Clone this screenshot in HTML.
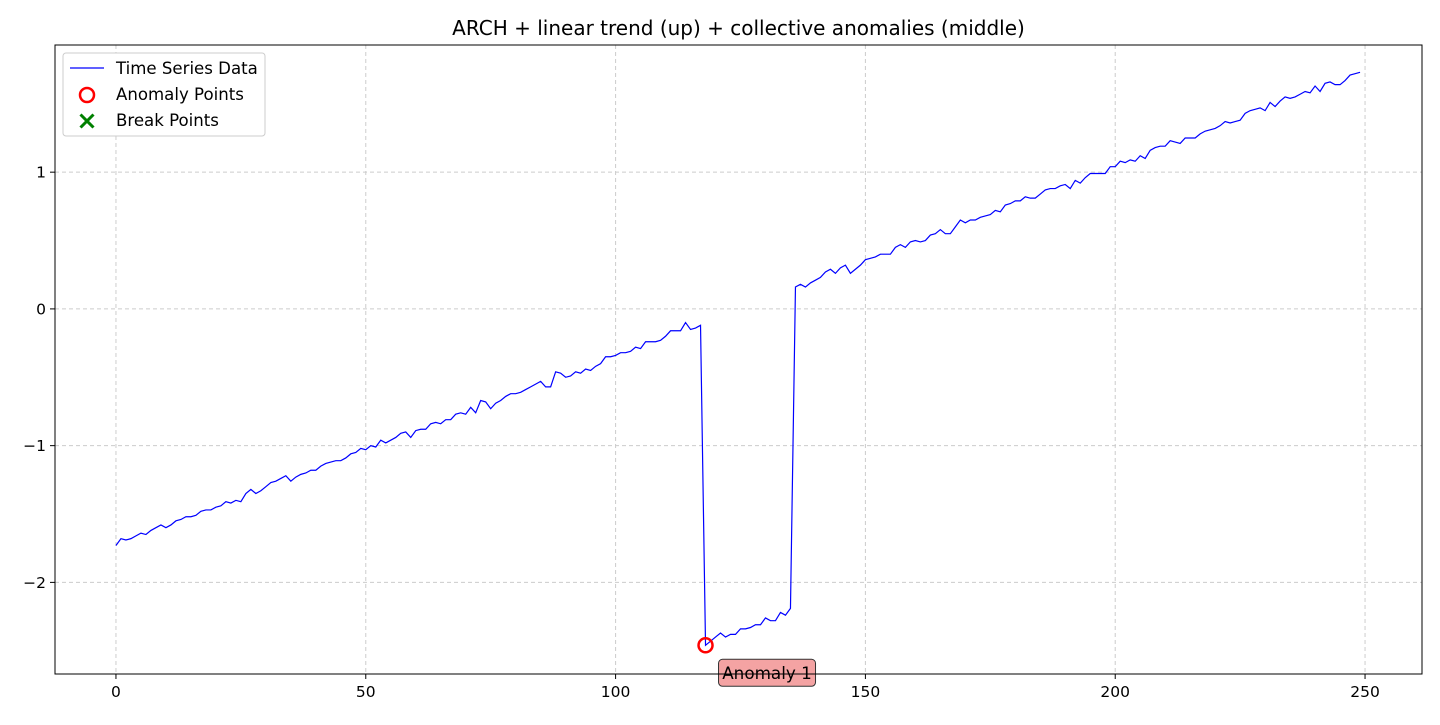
<!DOCTYPE html>
<html><head><meta charset="utf-8"><style>
body{margin:0;background:#fff;font-family:"Liberation Sans","DejaVu Sans",sans-serif}
svg text{font-family:"DejaVu Sans","Liberation Sans",sans-serif}
</style></head><body>
<svg id="chart" width="1440" height="720" xmlns="http://www.w3.org/2000/svg"></svg>
<script>
const values = [-1.73,-1.68,-1.69,-1.68,-1.66,-1.64,-1.65,-1.62,-1.60,-1.58,
-1.60,-1.58,-1.55,-1.54,-1.52,-1.52,-1.51,-1.48,-1.47,-1.47,
-1.45,-1.44,-1.41,-1.42,-1.40,-1.41,-1.35,-1.32,-1.35,-1.33,
-1.30,-1.27,-1.26,-1.24,-1.22,-1.26,-1.23,-1.21,-1.20,-1.18,
-1.18,-1.15,-1.13,-1.12,-1.11,-1.11,-1.09,-1.06,-1.05,-1.02,
-1.03,-1.00,-1.01,-0.96,-0.98,-0.96,-0.94,-0.91,-0.90,-0.94,
-0.89,-0.88,-0.88,-0.84,-0.83,-0.84,-0.81,-0.81,-0.77,-0.76,
-0.77,-0.72,-0.76,-0.67,-0.68,-0.73,-0.69,-0.67,-0.64,-0.62,
-0.62,-0.61,-0.59,-0.57,-0.55,-0.53,-0.57,-0.57,-0.46,-0.47,
-0.50,-0.49,-0.46,-0.47,-0.44,-0.45,-0.42,-0.40,-0.35,-0.35,
-0.34,-0.32,-0.32,-0.31,-0.28,-0.29,-0.24,-0.24,-0.24,-0.23,
-0.20,-0.16,-0.16,-0.16,-0.10,-0.15,-0.14,-0.12,
-2.46,-2.43,-2.40,-2.37,-2.40,-2.38,-2.38,-2.34,-2.34,-2.33,-2.31,-2.31,-2.26,-2.28,-2.28,-2.22,-2.24,-2.19,
0.16,0.18,0.16,0.19,0.21,0.23,0.27,0.29,0.26,0.30,
0.32,0.26,0.29,0.32,0.36,0.37,0.38,0.40,0.40,0.40,
0.45,0.47,0.45,0.49,0.50,0.49,0.50,0.54,0.55,0.58,
0.55,0.55,0.60,0.65,0.63,0.65,0.65,0.67,0.68,0.69,
0.72,0.71,0.76,0.77,0.79,0.79,0.82,0.81,0.81,0.84,
0.87,0.88,0.88,0.90,0.91,0.88,0.94,0.92,0.96,0.99,
0.99,0.99,0.99,1.04,1.04,1.08,1.07,1.09,1.08,1.12,
1.10,1.16,1.18,1.19,1.19,1.23,1.22,1.21,1.25,1.25,
1.25,1.28,1.30,1.31,1.32,1.34,1.37,1.36,1.37,1.38,
1.43,1.45,1.46,1.47,1.45,1.51,1.48,1.52,1.55,1.54,
1.55,1.57,1.59,1.58,1.63,1.59,1.65,1.66,1.64,1.64,
1.67,1.71,1.72,1.73];
const anomalyIdx = [118];
const anomalyLabels = ["Anomaly 1"];
const xTicks = [0,50,100,150,200,250];
const yTicks = [-2,-1,0,1];
const yTickLabels = ["\u22122","\u22121","0","1"];

const L=55,R=1422,T=45,B=674;
const xMin=-12.2,xMax=261.4,yMin=-2.67,yMax=1.93;
const X=v=>L+(v-xMin)/(xMax-xMin)*(R-L);
const Y=v=>B-(v-yMin)/(yMax-yMin)*(B-T);
const svg=document.getElementById('chart');
const NS='http://www.w3.org/2000/svg';
function mk(tag,attrs,parent){const e=document.createElementNS(NS,tag);for(const k in attrs)e.setAttribute(k,attrs[k]);(parent||svg).appendChild(e);return e;}

const grid=mk('g',{});


xTicks.forEach(t=>{mk('line',{x1:X(t),x2:X(t),y1:T,y2:B,stroke:'#ccc','stroke-dasharray':'4,3','stroke-width':1},grid);});
yTicks.forEach(t=>{mk('line',{x1:L,x2:R,y1:Y(t),y2:Y(t),stroke:'#ccc','stroke-dasharray':'4,3','stroke-width':1},grid);});

const xa=mk('g',{});


xTicks.forEach(t=>{mk('line',{x1:X(t),x2:X(t),y1:B,y2:B+5,stroke:'#000'},xa);const tx=mk('text',{x:X(t),y:B+23,'text-anchor':'middle','font-size':15.5},xa);tx.textContent=t;});
const ya=mk('g',{});


yTicks.forEach((t,i)=>{mk('line',{x1:L-5,x2:L,y1:Y(t),y2:Y(t),stroke:'#000'},ya);const tx=mk('text',{x:L-9,y:Y(t)+5.5,'text-anchor':'end','font-size':15.5},ya);tx.textContent=yTickLabels[i];});

const line=mk('polyline',{points:values.map((v,i)=>X(i)+','+Y(v)).join(' '),fill:'none',stroke:'#0000ff','stroke-width':1.2});



anomalyIdx.forEach((idx,k)=>{
  const c=mk('circle',{cx:X(idx),cy:Y(values[idx]),r:7,fill:'none',stroke:'#ff0000','stroke-width':2.5});
  
  
  const g=mk('g',{});
  
  
  const bx=X(idx)+13,by=Y(values[idx])+14;
  mk('rect',{x:bx,y:by,width:97,height:27,rx:4,fill:'#f4a3a3',stroke:'#333','stroke-width':1},g);
  const tx=mk('text',{x:bx+48.5,y:by+19.5,'text-anchor':'middle','font-size':16.8},g);tx.textContent=anomalyLabels[k];
});

const frame=mk('rect',{x:L,y:T,width:R-L,height:B-T,fill:'none',stroke:'#000','stroke-width':1});



const title=mk('text',{x:(L+R)/2,y:35,'text-anchor':'middle','font-size':20});
title.textContent='ARCH + linear trend (up) + collective anomalies (middle)';



const lg=mk('g',{});


mk('rect',{x:63,y:53,width:202,height:83,rx:3,fill:'#fff',stroke:'#ccc'},lg);
mk('line',{x1:70,x2:104,y1:68,y2:68,stroke:'#0000ff','stroke-width':1.2},lg);
mk('circle',{cx:87,cy:95,r:7,fill:'none',stroke:'#ff0000','stroke-width':2.5},lg);
mk('path',{d:'M80.5,114.5 L93.5,127.5 M93.5,114.5 L80.5,127.5',stroke:'#008000','stroke-width':3},lg);
[['Time Series Data',74],['Anomaly Points',100],['Break Points',126]].forEach(([s,y])=>{const t=mk('text',{x:116,y:y,'font-size':16.6},lg);t.textContent=s;});
</script>
</body></html>
